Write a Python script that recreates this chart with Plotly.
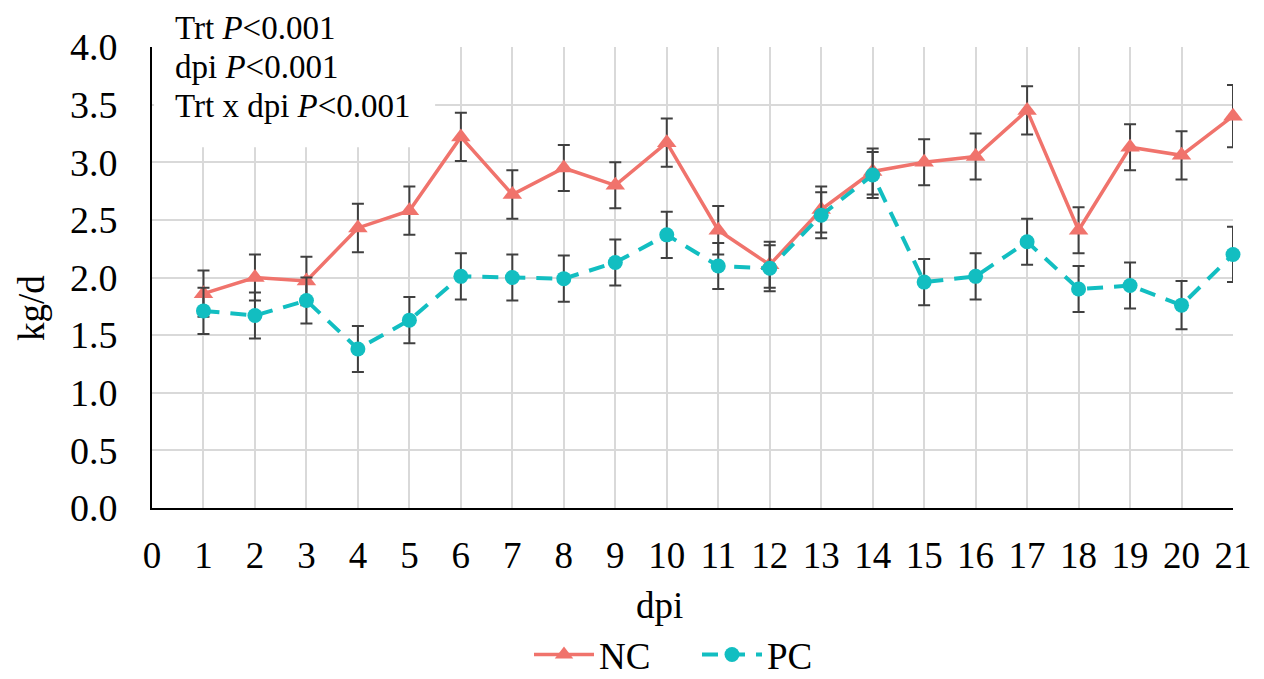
import plotly.graph_objects as go

dpi = list(range(1, 22))
nc = [1.86, 2.00, 1.97, 2.43, 2.58, 3.22, 2.72, 2.95, 2.80, 3.17, 2.41, 2.11,
      2.59, 2.92, 3.00, 3.05, 3.45, 2.41, 3.13, 3.06, 3.40]
nc_err = [0.20, 0.20, 0.21, 0.21, 0.21, 0.21, 0.21, 0.20, 0.20, 0.21, 0.21, 0.20,
          0.20, 0.20, 0.20, 0.20, 0.21, 0.20, 0.20, 0.21, 0.27]
pc = [1.71, 1.67, 1.80, 1.38, 1.63, 2.01, 2.00, 1.99, 2.13, 2.37, 2.10, 2.08,
      2.54, 2.89, 1.96, 2.01, 2.31, 1.90, 1.93, 1.76, 2.20]
pc_err = [0.20, 0.20, 0.20, 0.20, 0.20, 0.20, 0.20, 0.20, 0.20, 0.20, 0.20, 0.20,
          0.20, 0.20, 0.20, 0.20, 0.20, 0.20, 0.20, 0.21, 0.24]
x_ticks = list(range(0, 22))
y_ticks = [0.0, 0.5, 1.0, 1.5, 2.0, 2.5, 3.0, 3.5, 4.0]
stats_lines = ["Trt <i>P</i><0.001", "dpi <i>P</i><0.001", "Trt x dpi <i>P</i><0.001"]

FONT = "Liberation Serif, Times New Roman, serif"
NC_COLOR = "#F0736C"
PC_COLOR = "#12BEC1"
ERR_COLOR = "#404040"

W, H = 1264, 679
ML, MR, MT, MB = 152, 31, 47, 171
PH = H - MT - MB

fig = go.Figure()
fig.add_trace(go.Scatter(
    x=dpi, y=nc, name="NC", mode="lines+markers",
    line=dict(color=NC_COLOR, width=3.5),
    marker=dict(symbol="triangle-up", size=17, color=NC_COLOR),
    error_y=dict(type="data", array=nc_err, color=ERR_COLOR, thickness=2, width=6),
    cliponaxis=False,
))
fig.add_trace(go.Scatter(
    x=dpi, y=pc, name="PC", mode="lines+markers",
    line=dict(color=PC_COLOR, width=4, dash="16px,11px"),
    marker=dict(symbol="circle", size=15, color=PC_COLOR),
    error_y=dict(type="data", array=pc_err, color=ERR_COLOR, thickness=2, width=6),
    cliponaxis=False,
))

# white box behind the statistics text (covers gridlines)
fig.add_shape(type="rect", xref="x", yref="y", x0=0.04, x1=5.5, y0=3.13, y1=4.0,
              fillcolor="white", line=dict(width=0), layer="between")

# statistics text, one line per annotation (pixel centres 28, 67, 106)
for line, py in zip(stats_lines, [28, 67, 106]):
    fig.add_annotation(text=line, xref="paper", yref="paper",
                       x=(173 - ML) / (W - ML - MR), y=(H - MB - py) / PH,
                       xanchor="left", yanchor="middle", align="left", showarrow=False,
                       font=dict(family=FONT, size=33, color="black"))

fig.add_annotation(text="dpi", xref="paper", yref="paper", x=(659 - ML) / (W - ML - MR),
                   y=(H - MB - 605) / PH,
                   xanchor="center", yanchor="middle", showarrow=False,
                   font=dict(family=FONT, size=37, color="black"))
fig.add_annotation(text="kg/d", xref="paper", yref="paper", x=(32 - ML) / (W - ML - MR),
                   y=(H - MB - 308) / PH,
                   xanchor="center", yanchor="middle", showarrow=False, textangle=-90,
                   font=dict(family=FONT, size=37, color="black"))

fig.update_layout(
    width=W, height=H,
    margin=dict(l=ML, r=MR, t=MT, b=MB, autoexpand=False),
    paper_bgcolor="white", plot_bgcolor="white",
    font=dict(family=FONT, size=37, color="black"),
    showlegend=True,
    legend=dict(orientation="h", xref="container", yref="container",
                x=697 / W, y=(H - 655) / H, xanchor="center", yanchor="middle",
                font=dict(family=FONT, size=37, color="black"),
                entrywidth=93, itemwidth=60,
                bgcolor="rgba(0,0,0,0)", tracegroupgap=0),
    xaxis=dict(range=[0, 21], tickmode="array", tickvals=x_ticks,
               ticktext=[str(v) for v in x_ticks],
               showgrid=True, gridcolor="#D9D9D9", gridwidth=1.5,
               showline=True, linecolor="black", linewidth=2,
               ticks="", ticklabelstandoff=14, zeroline=False, automargin=False,
               tickfont=dict(family=FONT, size=37, color="black")),
    yaxis=dict(range=[0, 4.0], tickmode="array", tickvals=y_ticks,
               ticktext=[f"{v:.1f}" for v in y_ticks],
               showgrid=True, gridcolor="#D9D9D9", gridwidth=1.5,
               showline=True, linecolor="black", linewidth=2,
               ticks="", ticklabelstandoff=25, zeroline=False, automargin=False,
               tickfont=dict(family=FONT, size=38, color="black")),
)

fig.write_html("out.html", config={"displayModeBar": False},
               post_script="document.body.style.margin='0';document.body.style.overflow='hidden';")
